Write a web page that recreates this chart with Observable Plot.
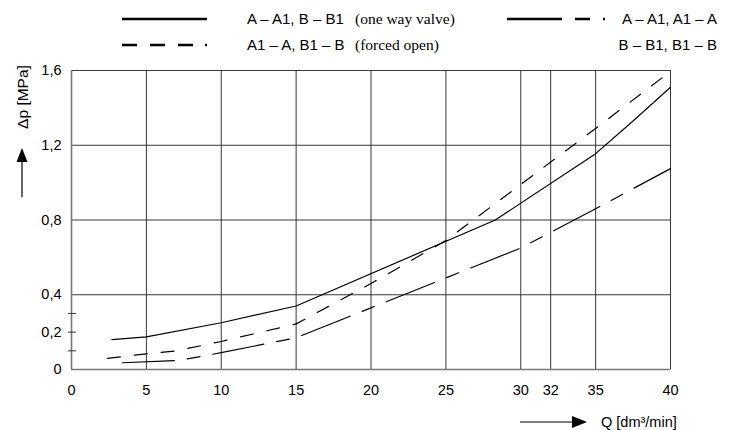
<!DOCTYPE html>
<html><head><meta charset="utf-8">
<script src="https://cdn.jsdelivr.net/npm/d3@7"></script>
<script src="https://cdn.jsdelivr.net/npm/@observablehq/plot@0.6"></script>
<style>
body{margin:0;background:#fff;}
#legend,#chart{display:block;line-height:0}
</style></head><body>
<div id="legend"></div>
<div id="chart"></div>
<script>
// Solid: A – A1, B – B1 (one way valve)
const solidQ = [2.7, 5, 10, 15, 28.3, 35, 37.5, 40];
const solidP = [0.16, 0.175, 0.25, 0.34, 0.80, 1.155, 1.33, 1.51];
// Dashed: A1 – A, B1 – B (forced open)
const dashQ = [2.4, 5, 7, 10, 15, 20, 25, 30, 35, 40];
const dashP = [0.06, 0.084, 0.10, 0.15, 0.244, 0.46, 0.69, 0.99, 1.29, 1.595];
// Dash-dot: A – A1, A1 – A / B – B1, B1 – B
const dotQ = [3.4, 7.2, 10, 15, 20, 25, 30, 35, 40];
const dotP = [0.036, 0.049, 0.09, 0.17, 0.33, 0.49, 0.65, 0.86, 1.075];

const xTicks = [0, 5, 10, 15, 20, 25, 30, 32, 35, 40];
const xGrid = [5, 10, 15, 20, 25, 30, 32, 35, 40];
const yLabels = [0, 0.2, 0.4, 0.8, 1.2, 1.6];
const yGrid = [0.4, 0.8, 1.2, 1.6];
const yMinor = [0.1, 0.2, 0.3];

const legendRows = [
  {sans: "A – A1, B – B1", serif: "(one way valve)", dash: null},
  {sans: "A1 – A, B1 – B", serif: "(forced open)", dash: "15,13,15,13,15,12,2,100"}
];
const legendRight = ["A – A1, A1 – A", "B – B1, B1 – B"];
const xTitle = "Q [dm³/min]";
const yTitle = "Δp [MPa]";

const SANS = "'Liberation Sans Narrow','Liberation Sans',Arial,sans-serif";
const SERIF = "'Liberation Serif','DejaVu Serif',serif";

const toRows = (xs, ys) => xs.map((q, i) => ({q, p: ys[i]}));
const solid = toRows(solidQ, solidP);
const dashed = toRows(dashQ, dashP);
const dashdot = toRows(dotQ, dotP);

const fmt = d => d === 0 ? "0" : String(d).replace(".", ",");

// Legend (HTML-side SVG above the plot)
const lg = d3.select("#legend").append("svg").attr("width", 732).attr("height", 60);
const rowY = [19, 45];
lg.append("line").attr("x1", 122).attr("x2", 207).attr("y1", rowY[0]).attr("y2", rowY[0])
  .attr("stroke", "#000").attr("stroke-width", 2.6);
lg.append("line").attr("x1", 122).attr("x2", 207).attr("y1", rowY[1]).attr("y2", rowY[1])
  .attr("stroke", "#000").attr("stroke-width", 2.6).attr("stroke-dasharray", legendRows[1].dash);
legendRows.forEach((r, i) => {
  lg.append("text").attr("x", 247).attr("y", rowY[i] + 5).attr("font-family", SANS)
    .attr("font-size", 15).text(r.sans);
  lg.append("text").attr("x", 355).attr("y", rowY[i] + 5).attr("font-family", SERIF)
    .attr("font-size", 15.5).text(r.serif);
});
lg.append("line").attr("x1", 507).attr("x2", 605).attr("y1", rowY[0]).attr("y2", rowY[0])
  .attr("stroke", "#000").attr("stroke-width", 2.6).attr("stroke-dasharray", "55,13,15,13,2,100");
legendRight.forEach((t, i) => {
  lg.append("text").attr("x", 717).attr("y", rowY[i] + 5).attr("text-anchor", "end")
    .attr("font-family", SANS).attr("font-size", 15).text(t);
});

const chart = Plot.plot({
  width: 732,
  height: 370,
  marginTop: 10,
  marginBottom: 61,
  marginLeft: 71,
  marginRight: 62,
  x: {domain: [0, 40]},
  y: {domain: [0, 1.6]},
  style: {fontFamily: SANS, fontSize: "14.5px", color: "#000", background: "#fff", overflow: "visible"},
  marks: [
    Plot.gridX(xGrid, {stroke: "#222", strokeOpacity: 0.9, strokeWidth: 1}),
    Plot.gridY(yGrid, {stroke: "#222", strokeOpacity: 0.9, strokeWidth: 1}),
    Plot.ruleX([0], {stroke: "#777", strokeWidth: 1.6}),
    Plot.ruleY([0], {stroke: "#777", strokeWidth: 1.6}),
    Plot.ruleY(yMinor, {x1: 0, x2: 0, insetLeft: -3, insetRight: -5, stroke: "#333", strokeWidth: 1}),
    Plot.axisX(xTicks, {tickSize: 0, tickPadding: 15, label: null, fontSize: 14.5}),
    Plot.axisY(yLabels, {tickSize: 0, tickPadding: 10, tickFormat: fmt, label: null, fontSize: 14.5}),
    Plot.line(solid, {x: "q", y: "p", stroke: "#000", strokeWidth: 1.2}),
    Plot.line(dashed, {x: "q", y: "p", stroke: "#000", strokeWidth: 1.2, strokeDasharray: "13,14"}),
    Plot.line(dashdot, {x: "q", y: "p", stroke: "#000", strokeWidth: 1.2, strokeDasharray: "52,13,13,13"})
  ]
});
document.getElementById("chart").appendChild(chart);

// Axis titles with arrows
const svg = d3.select(chart);
svg.append("text").attr("transform", "translate(28,37) rotate(-90)").attr("text-anchor", "middle")
  .attr("font-family", SANS).attr("font-size", 15.5).text(yTitle);
svg.append("line").attr("x1", 22).attr("x2", 22).attr("y1", 137).attr("y2", 98)
  .attr("stroke", "#000").attr("stroke-width", 1.2);
svg.append("path").attr("d", "M22,88 L16.5,102 L27.5,102 Z").attr("fill", "#000");

svg.append("line").attr("x1", 520).attr("x2", 576).attr("y1", 362).attr("y2", 362)
  .attr("stroke", "#000").attr("stroke-width", 1.2);
svg.append("path").attr("d", "M587,362 L572,356 L572,368 Z").attr("fill", "#000");
svg.append("text").attr("x", 601).attr("y", 367).attr("text-anchor", "start")
  .attr("font-family", SANS).attr("font-size", 14.5).text(xTitle);
</script>
</body></html>
